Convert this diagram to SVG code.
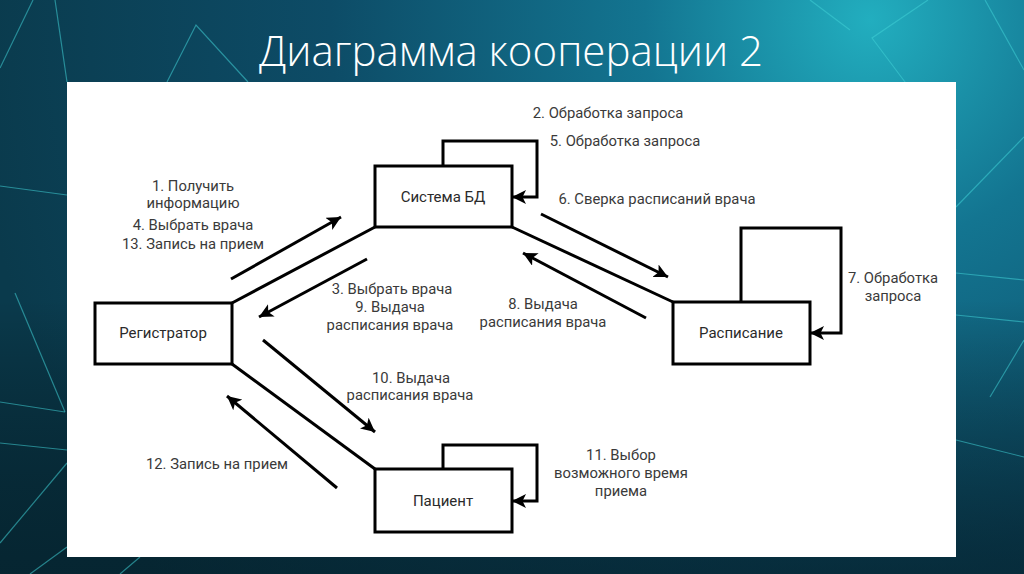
<svg xmlns="http://www.w3.org/2000/svg" width="1024" height="574" viewBox="0 0 1024 574">
<defs>
<radialGradient id="bg" cx="870" cy="20" r="900" gradientUnits="userSpaceOnUse">
<stop offset="0" stop-color="#22aebf"/>
<stop offset="0.25" stop-color="#137591"/>
<stop offset="0.6" stop-color="#0d4c67"/>
<stop offset="1" stop-color="#0a3a4c"/>
</radialGradient>
<linearGradient id="bot" x1="0" y1="0" x2="0" y2="1">
<stop offset="0" stop-color="#000" stop-opacity="0"/>
<stop offset="1" stop-color="#031820" stop-opacity="0.6"/>
</linearGradient>
<marker id="ah" markerUnits="userSpaceOnUse" markerWidth="16" markerHeight="14" refX="14" refY="7" orient="auto">
<path d="M0,0 L14,7 L0,14 L3.5,7 z" fill="#000"/>
</marker>
<style>
.box{fill:#fff;stroke:#000;stroke-width:3}
.ln{fill:none;stroke:#000;stroke-width:3}
.ar{fill:none;stroke:#000;stroke-width:3;marker-end:url(#ah)}
.t{font-family:Roboto,"Liberation Sans",sans-serif;font-size:14.8px;fill:#3a3a3a;text-anchor:middle}
.n{font-family:Roboto,"Liberation Sans",sans-serif;font-size:15px;fill:#2a2a2a;text-anchor:middle}
.deco{stroke:#3fd0d6;stroke-width:1.2;fill:none;opacity:0.55}
</style>
</defs>
<rect width="1024" height="574" fill="url(#bg)"/>
<rect y="300" width="1024" height="274" fill="url(#bot)"/>
<g id="decoration">
<path class="deco" d="M0,68 L33,0"/>
<path class="deco" d="M55,0 L67,82"/>
<path class="deco" d="M167,82 L196,25 L248,82"/>
<path class="deco" d="M810,0 L850,30"/>
<path class="deco" d="M928,0 L872,38 L956,150"/>
<path class="deco" d="M985,0 L1024,70"/>
<path class="deco" d="M956,207 L1024,137"/>
<path class="deco" d="M956,273 L1024,280"/>
<path class="deco" d="M956,315 L1024,322"/>
<path class="deco" d="M990,397 L1024,340"/>
<path class="deco" d="M956,440 L1024,457" opacity="0.3"/>
<path class="deco" d="M0,186 L67,195"/>
<path class="deco" d="M15,293 L65,412"/>
<path class="deco" d="M0,402 L65,412"/>
<path class="deco" d="M0,443 L67,450"/>
<path class="deco" d="M0,543 L67,463"/>
<path class="deco" d="M30,574 L67,547"/>
<path class="deco" d="M120,574 L140,557"/>
</g>
<text x="511" y="66" font-family="'Open Sans','Liberation Sans',sans-serif" font-weight="300" font-size="42" fill="#fff" text-anchor="middle">Диаграмма кооперации 2</text>
<rect x="67" y="82" width="889" height="475" fill="#fff"/>
<g id="connectors">
<path class="ln" d="M232,303 L375,227"/>
<path class="ln" d="M512,227 L673,302"/>
<path class="ln" d="M232,364 L375,469"/>
<path class="ar" d="M443,166 V141 H537 V197 H512"/>
<path class="ar" d="M741,302 V228 H841 V333 H810"/>
<path class="ar" d="M443,469 V445 H537 V501 H512"/>
<path class="ar" d="M231,279 L341,217"/>
<path class="ar" d="M367,259 L259,317"/>
<path class="ar" d="M541,214 L668,277"/>
<path class="ar" d="M646,318 L523,253"/>
<path class="ar" d="M263,340 L375,432"/>
<path class="ar" d="M337,488 L227,396"/>
</g>
<g id="node-sysbd">
<rect class="box" x="375" y="166" width="137" height="61"/>
<text class="n" x="443" y="202">Система БД</text>
</g>
<g id="node-registrator">
<rect class="box" x="95" y="303" width="137" height="61"/>
<text class="n" x="163" y="338">Регистратор</text>
</g>
<g id="node-raspisanie">
<rect class="box" x="673" y="302" width="137" height="62"/>
<text class="n" x="741" y="338">Расписание</text>
</g>
<g id="node-pacient">
<rect class="box" x="375" y="469" width="137" height="63"/>
<text class="n" x="443" y="506">Пациент</text>
</g>
<g id="labels">
<text class="t" x="608" y="118">2. Обработка запроса</text>
<text class="t" x="625" y="146">5. Обработка запроса</text>
<text class="t" x="657" y="204">6. Сверка расписаний врача</text>
<text class="t" x="193" y="191">1. Получить</text>
<text class="t" x="193" y="208">информацию</text>
<text class="t" x="193" y="230">4. Выбрать врача</text>
<text class="t" x="193" y="249">13. Запись на прием</text>
<text class="t" x="392" y="294">3. Выбрать врача</text>
<text class="t" x="390" y="312">9. Выдача</text>
<text class="t" x="390" y="330">расписания врача</text>
<text class="t" x="543" y="309">8. Выдача</text>
<text class="t" x="543" y="327">расписания врача</text>
<text class="t" x="893" y="283">7. Обработка</text>
<text class="t" x="893" y="301">запроса</text>
<text class="t" x="411" y="383">10. Выдача</text>
<text class="t" x="410" y="400">расписания врача</text>
<text class="t" x="217" y="469">12. Запись на прием</text>
<text class="t" x="621" y="460">11. Выбор</text>
<text class="t" x="621" y="478">возможного время</text>
<text class="t" x="621" y="496">приема</text>
</g>
</svg>
